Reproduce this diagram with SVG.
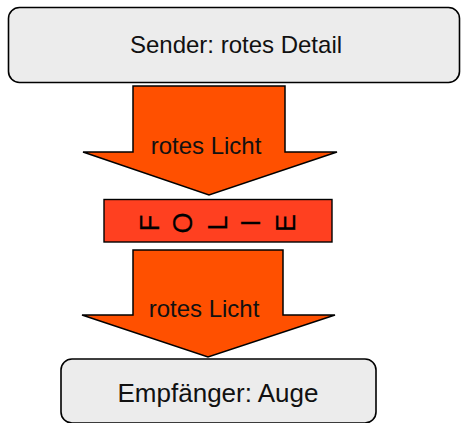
<svg xmlns="http://www.w3.org/2000/svg" width="461" height="423" viewBox="0 0 461 423">
  <style>
    .box { fill: #ececec; stroke: #000; stroke-width: 1.6; }
    .beam { fill: #ff5000; stroke: #000; stroke-width: 1.5; stroke-linejoin: miter; }
    .foil { fill: #ff4020; stroke: #000; stroke-width: 1.4; }
    .label { font-family: "Liberation Sans", Arial, sans-serif; font-size: 24px; fill: #111; text-anchor: middle; }
    .letter { font-family: "Liberation Sans", Arial, sans-serif; font-size: 27px; fill: #000; stroke: #000; stroke-width: 0.2; text-anchor: middle; }
  </style>
  <rect width="461" height="423" fill="#fff"/>

  <g id="sender">
    <rect class="box" x="8.5" y="7.5" width="451" height="75" rx="11"/>
    <text class="label" x="236" y="53">Sender: rotes Detail</text>
  </g>

  <g id="connectors">
    <g id="light-in">
      <polygon class="beam" points="133,86 285,86 285,152 337,152 209,195 83,152 133,152"/>
      <text class="label" x="206" y="154">rotes Licht</text>
    </g>
    <g id="light-out">
      <polygon class="beam" points="133,250 283,250 283,315 335,315 208,357 82,315 133,315"/>
      <text class="label" x="204" y="317">rotes Licht</text>
    </g>
  </g>

  <g id="foil">
    <rect class="foil" x="104" y="199.5" width="228" height="42.5"/>
    <text class="letter" transform="translate(149,223) rotate(-90)" x="0" y="9.7">F</text>
    <text class="letter" transform="translate(182.5,223) rotate(-90)" x="0" y="9.7">O</text>
    <text class="letter" transform="translate(217,223) rotate(-90)" x="0" y="9.7">L</text>
    <text class="letter" transform="translate(250,223) rotate(-90)" x="0" y="9.7">I</text>
    <text class="letter" transform="translate(285,223) rotate(-90)" x="0" y="9.7">E</text>
  </g>

  <g id="receiver">
    <rect class="box" x="61" y="359" width="315" height="64" rx="11"/>
    <text class="label" x="218" y="402" style="font-size:26px">Empfänger: Auge</text>
  </g>
</svg>
